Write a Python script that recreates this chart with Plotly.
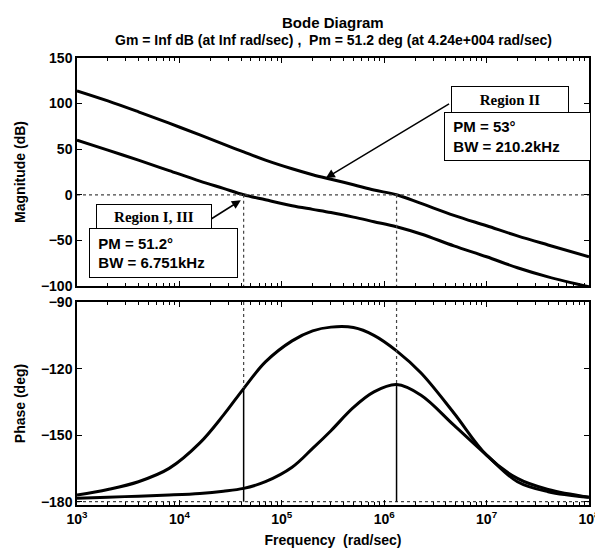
import plotly.graph_objects as go
from plotly.subplots import make_subplots

# ---- data ----
freq = [1e3, 2e3, 3.98e3, 7.94e3, 1.585e4, 2.69e4, 4.24e4, 6.92e4, 1.26e5, 2e5,
        3.02e5, 5.01e5, 7.94e5, 1.32e6, 2.29e6, 4.79e6, 1e7, 2e7, 3.98e7, 1e8]
mag_region2 = [114, 103, 91, 78.5, 65.6, 55.5, 47, 38, 28.5, 22,
               17, 11, 5.2, 0, -9.5, -22.5, -34, -45, -55, -68]
mag_region13 = [60, 49, 38, 26.5, 15, 7, 0, -5.5, -12, -16,
                -19.5, -24.5, -29.5, -35, -43, -56, -68, -80, -90, -101]
phase_region13 = [-177, -174.5, -171, -165, -153.5, -141, -129, -117, -107.5, -103,
                  -101.3, -101.5, -105, -112, -122, -140, -159, -169.5, -174.5, -178]
phase_region2 = [-178.5, -178, -177.5, -177, -176.3, -175.3, -174, -171, -164.5, -156,
                 -148, -137.5, -130.5, -127.2, -132, -145.5, -159, -171, -175.5, -178]

crossover_freq = [4.24e4, 1.32e6]
crossover_phase = [-128.8, -127.0]
x_tick_vals = [1e3, 1e4, 1e5, 1e6, 1e7, 1e8]
x_tick_text = ["10<sup>3</sup>", "10<sup>4</sup>", "10<sup>5</sup>",
               "10<sup>6</sup>", "10<sup>7</sup>", "10<sup>8</sup>"]
x_minor_vals = [k * 10 ** d for d in range(3, 8) for k in range(2, 10)]
mag_ticks = [-100, -50, 0, 50, 100, 150]
phase_ticks = [-180, -150, -120, -90]

title_text = "Bode Diagram"
subtitle_text = "Gm = Inf dB (at Inf rad/sec) ,  Pm = 51.2 deg (at 4.24e+004 rad/sec)"

SANS = "Liberation Sans, Arial, sans-serif"
NARROW = "Liberation Sans Narrow, Arial Narrow, Liberation Sans, sans-serif"
SERIF = "Liberation Serif, Times New Roman, serif"

fig = make_subplots(rows=2, cols=1, shared_xaxes=False, vertical_spacing=0.036)

line_style = dict(color="black", width=3, shape="spline", smoothing=1.0)
fig.add_trace(go.Scatter(x=freq, y=mag_region2, mode="lines", line=line_style), row=1, col=1)
fig.add_trace(go.Scatter(x=freq, y=mag_region13, mode="lines", line=line_style), row=1, col=1)
fig.add_trace(go.Scatter(x=freq, y=phase_region13, mode="lines", line=line_style), row=2, col=1)
fig.add_trace(go.Scatter(x=freq, y=phase_region2, mode="lines", line=line_style), row=2, col=1)

dot = dict(color="#444444", width=1.2, dash="dot")
# 0 dB and -180 deg reference lines
fig.add_trace(go.Scatter(x=[freq[0], freq[-1]], y=[0, 0], mode="lines", line=dot), row=1, col=1)
fig.add_trace(go.Scatter(x=[freq[0], freq[-1]], y=[-180, -180], mode="lines", line=dot), row=2, col=1)
for wc, ph in zip(crossover_freq, crossover_phase):
    fig.add_trace(go.Scatter(x=[wc, wc], y=[0, mag_ticks[0]], mode="lines", line=dot), row=1, col=1)
    fig.add_trace(go.Scatter(x=[wc, wc], y=[phase_ticks[-1], ph], mode="lines", line=dot), row=2, col=1)
    fig.add_trace(go.Scatter(x=[wc, wc], y=[ph, phase_ticks[0]], mode="lines",
                             line=dict(color="black", width=1.5)), row=2, col=1)

axis_common = dict(showline=True, linecolor="black", linewidth=1.5, mirror="allticks",
                   ticks="inside", ticklen=5, tickcolor="black", showgrid=False, zeroline=False,
                   tickfont=dict(family=SANS, size=14, color="black", weight="bold"))

xcommon = dict(axis_common, type="log", range=[3, 8], tickvals=x_tick_vals, ticktext=x_tick_text,
               minor=dict(ticks="inside", ticklen=3, tickcolor="black", showgrid=False,
                          tickmode="array", tickvals=x_minor_vals))
fig.update_xaxes(**xcommon, showticklabels=False, row=1, col=1)
fig.update_xaxes(**xcommon, row=2, col=1,
                 title=dict(text="Frequency  (rad/sec)", standoff=10,
                            font=dict(family=SANS, size=14, color="black", weight="bold")))
fig.update_yaxes(**axis_common, range=[-100, 150], tickvals=mag_ticks, row=1, col=1,
                 title=dict(text="Magnitude (dB)", standoff=12,
                            font=dict(family=SANS, size=14, color="black", weight="bold")))
fig.update_yaxes(**axis_common, range=[-181.5, -90], tickvals=phase_ticks, row=2, col=1,
                 title=dict(text="Phase (deg)", standoff=12,
                            font=dict(family=SANS, size=14, color="black", weight="bold")))

fig.update_layout(yaxis=dict(domain=[0.49, 1.0]), yaxis2=dict(domain=[0.0, 0.454]))

anns = []
# titles
anns.append(dict(text=title_text, xref="paper", yref="paper", x=0.5, y=1.0, yshift=36,
                 xanchor="center", yanchor="middle", showarrow=False,
                 font=dict(family=NARROW, size=15, color="black", weight="bold")))
anns.append(dict(text=subtitle_text, xref="paper", yref="paper", x=0.5, y=1.0, yshift=18,
                 xanchor="center", yanchor="middle", showarrow=False,
                 font=dict(family=NARROW, size=14, color="black", weight="bold")))

# arrows
anns.append(dict(x=5.43, y=18.4, ax=6.648, ay=100.7, xref="x", yref="y", axref="x", ayref="y",
                 text="", showarrow=True, arrowhead=2, arrowsize=1.2, arrowwidth=1.5, arrowcolor="black"))
anns.append(dict(x=4.6, y=-6, ax=4.295, ay=-27.6, xref="x", yref="y", axref="x", ayref="y",
                 text="", showarrow=True, arrowhead=2, arrowsize=1.2, arrowwidth=1.5, arrowcolor="black"))

box = dict(showarrow=False, xref="x", yref="y", xanchor="left", yanchor="top",
           bgcolor="white", bordercolor="black", borderwidth=1, borderpad=0)
anns.append(dict(box, text="<b>Region II</b>", x=6.648, y=119.3, width=116, height=25,
                 font=dict(family=SERIF, size=15, color="black")))
anns.append(dict(box, text="<b>\u00a0\u00a0PM = 53°<br>\u00a0\u00a0BW = 210.2kHz</b>", x=6.581, y=90.8,
                 width=145, height=47, align="left", font=dict(family=SANS, size=15, color="black")))
anns.append(dict(box, text="<b>Region I, III</b>", x=3.19, y=-10.1, width=114, height=23,
                 font=dict(family=SERIF, size=15, color="black")))
anns.append(dict(box, text="<b>\u00a0\u00a0PM = 51.2°<br>\u00a0\u00a0BW = 6.751kHz</b>", x=3.114, y=-36.4,
                 width=147, height=48, align="left", font=dict(family=SANS, size=15, color="black")))

fig.update_layout(width=603, height=553, margin=dict(l=67, r=11, t=50, b=56),
                  paper_bgcolor="white", plot_bgcolor="white", showlegend=False,
                  annotations=anns)

fig.write_html("out.html")
